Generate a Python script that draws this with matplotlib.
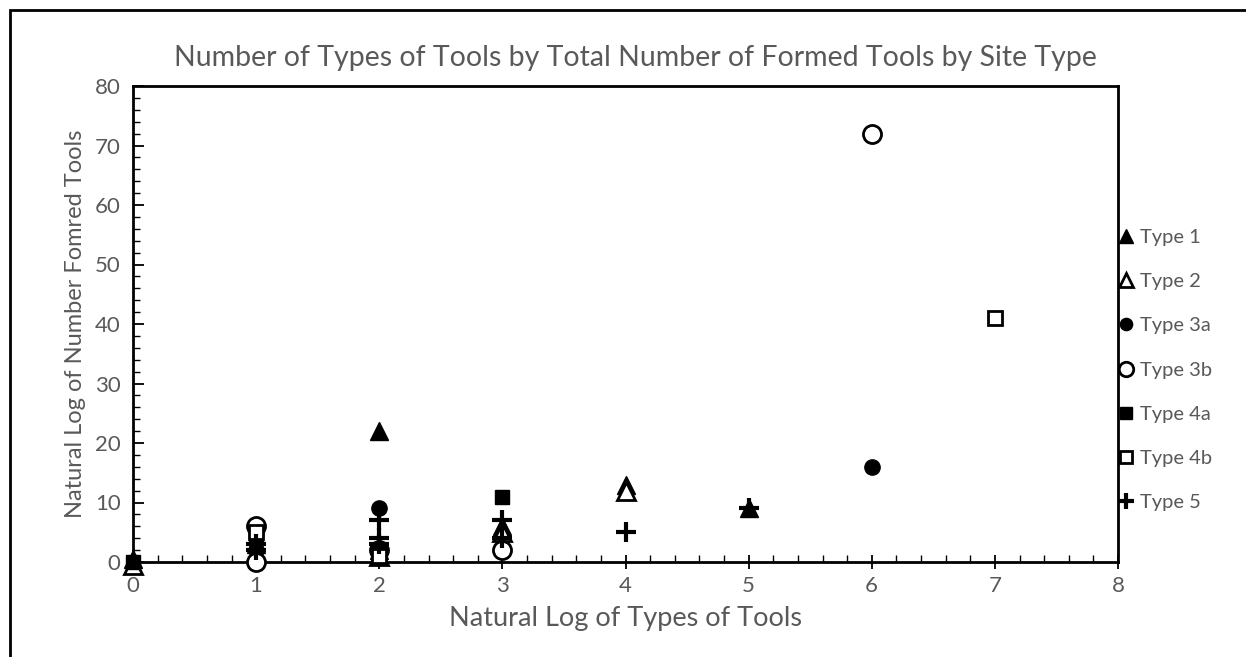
import matplotlib.pyplot as plt
from matplotlib.patches import Rectangle
from matplotlib.ticker import MultipleLocator

plt.rcParams['font.family'] = ['Lato', 'DejaVu Sans']

# data (x = ln types of tools, y = ln number formed tools)
type1_x = [0, 1, 2, 2, 3, 4, 5]
type1_y = [0.5, 3, 22, 2, 6, 13, 9]
type2_x = [0, 2, 3, 4]
type2_y = [-0.5, 1, 5, 12]
type3a_x = [1, 2, 2, 6]
type3a_y = [2, 9, 2, 16]
type3b_x = [1, 1, 2, 3, 6]
type3b_y = [6, 0, 2, 2, 72]
type4a_x = [0, 1, 2, 3]
type4a_y = [0, 4, 1.5, 11]
type4b_x = [1, 2, 7]
type4b_y = [5, 1, 41]
type5_x = [1, 1, 2, 2, 2, 3, 3, 4, 5]
type5_y = [3, 2, 7, 4, 3, 7, 4, 5, 9]

grey = '#595959'

fig = plt.figure(figsize=(12.46, 6.57), dpi=100)
# outer chart border
fig.patches.append(Rectangle((10 / 1246, -0.05), 1.1, 1 - 10 / 657 + 0.05,
                             transform=fig.transFigure, fill=False,
                             edgecolor='black', linewidth=2))
ax = fig.add_axes([133 / 1246, 1 - 562 / 657, (1118 - 133) / 1246, (562 - 86) / 657])

kw = dict(linestyle='none', clip_on=False, zorder=3)
ax.plot(type1_x, type1_y, marker='^', ms=13, mfc='black', mec='black', label='Type 1', **kw)
ax.plot(type2_x, type2_y, marker='^', ms=13, mfc='white', mec='black', mew=2, label='Type 2', **kw)
ax.plot(type3a_x, type3a_y, marker='o', ms=11, mfc='black', mec='black', label='Type 3a', **kw)
ax.plot(type3b_x, type3b_y, marker='o', ms=13, mfc='white', mec='black', mew=2, label='Type 3b', **kw)
ax.plot(type4a_x, type4a_y, marker='s', ms=10, mfc='black', mec='black', label='Type 4a', **kw)
ax.plot(type4b_x, type4b_y, marker='s', ms=10, mfc='white', mec='black', mew=2, label='Type 4b', **kw)
ax.plot(type5_x, type5_y, marker='+', ms=15, mec='black', mew=3, label='Type 5', **kw)

ax.set_xlim(0, 8)
ax.set_ylim(0, 80)
ax.xaxis.set_major_locator(MultipleLocator(1))
ax.xaxis.set_minor_locator(MultipleLocator(0.2))
ax.yaxis.set_major_locator(MultipleLocator(10))
ax.yaxis.set_minor_locator(MultipleLocator(2))
ax.tick_params(axis='x', which='major', direction='inout', length=10, width=1.3,
               labelsize=16, labelcolor=grey, pad=5)
ax.tick_params(axis='x', which='minor', direction='in', length=5, width=1)
ax.tick_params(axis='y', which='major', direction='in', length=8, width=1.3,
               labelsize=16, labelcolor=grey, pad=9)
ax.tick_params(axis='y', which='minor', direction='in', length=5, width=1)
for s in ax.spines.values():
    s.set_linewidth(2)

ax.set_xlabel('Natural Log of Types of Tools', fontsize=19.5, color=grey, labelpad=7)
ax.set_ylabel('Natural Log of Number Fomred Tools', fontsize=17, color=grey, labelpad=6)
fig.text(0.5 * (172 + 1098) / 1246, 1 - 58 / 657,
         'Number of Types of Tools by Total Number of Formed Tools by Site Type',
         ha='center', va='center', fontsize=20.5, color=grey)

leg = ax.legend(loc='center left', bbox_to_anchor=(1.0, (562 - 370) / 476),
                frameon=False, fontsize=14.5, labelcolor=grey, labelspacing=1.35,
                handlelength=0.8, handletextpad=0.3, markerscale=0.8,
                borderaxespad=0, borderpad=0)

plt.savefig('out.png', dpi=100)
